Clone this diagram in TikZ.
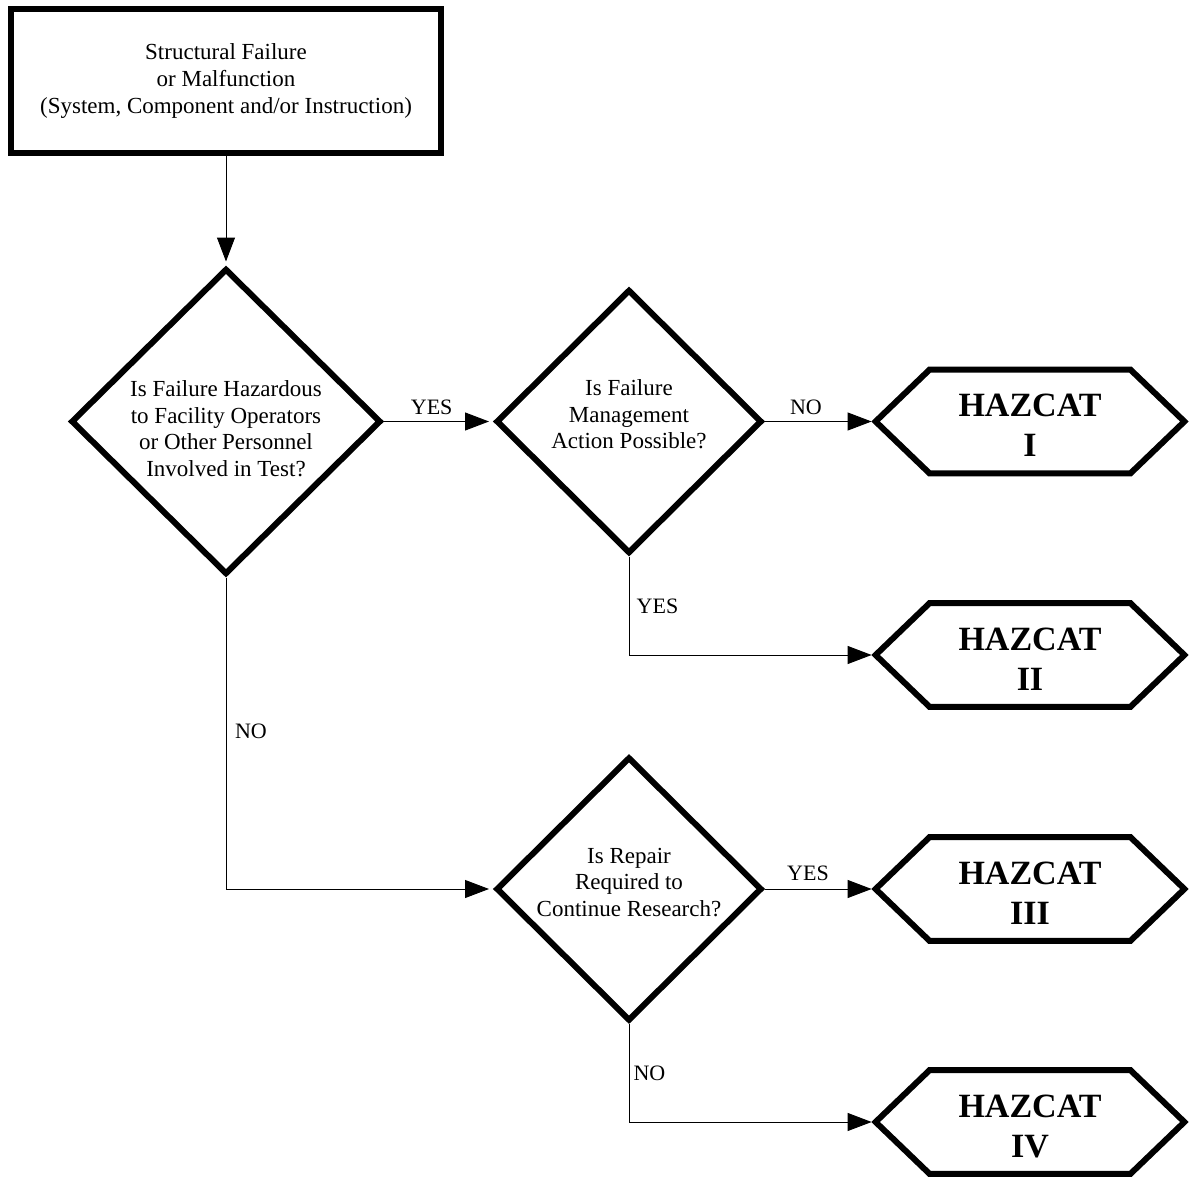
\documentclass[tikz,border=0pt]{standalone}
\usepackage{fontspec}
\setmainfont{Liberation Serif}
\usetikzlibrary{shapes.geometric,arrows.meta}
\begin{document}
\begin{tikzpicture}[x=0.5pt,y=-0.5pt,
  shapeline/.style={draw=black,line width=3pt,line join=miter},
  topbox/.style={shapeline,rectangle,minimum width=215pt,minimum height=72pt,inner sep=0pt},
  bigdia/.style={shapeline,diamond,inner sep=0pt,minimum width=155pt,minimum height=153pt},
  smalldia/.style={shapeline,diamond,inner sep=0pt,minimum width=133pt,minimum height=132pt},
  hexbox/.style={rectangle,inner sep=0pt,minimum width=154pt,minimum height=51.5pt},
  qtext/.style={align=center,inner sep=0pt,font=\fontsize{11.5}{13.3}\selectfont},
  haz/.style={align=center,inner sep=0pt,font=\fontsize{17}{20}\selectfont\bfseries},
  lbl/.style={inner sep=0pt,font=\fontsize{11}{13}\selectfont},
  conn/.style={draw=black,line width=0.5pt,-{Triangle[length=12pt,width=9pt]},shorten >=2pt},
]
\useasboundingbox (0,0) rectangle (1191,1178);

% shapes
\node[topbox] (box) at (226,81) {};
\node[bigdia] (d1) at (226,421.5) {};
\node[smalldia] (d2) at (629,421.5) {};
\node[smalldia] (d3) at (629,889) {};
\node[hexbox] (h1) at (1030,421.5) {};
\node[hexbox] (h2) at (1030,655) {};
\node[hexbox] (h3) at (1030,889) {};
\node[hexbox] (h4) at (1030,1122) {};
\foreach \h in {h1,h2,h3,h4}{
  \draw[shapeline] (\h.west) -- ([xshift=27pt]\h.north west) -- ([xshift=-27pt]\h.north east)
    -- (\h.east) -- ([xshift=-27pt]\h.south east) -- ([xshift=27pt]\h.south west) -- cycle;
}

% texts
\node[qtext] (t0) at (226,81) {Structural Failure\\or Malfunction\\(System, Component and/or Instruction)};
\node[qtext] (t1) at (226,428.8) {Is Failure Hazardous\\to Facility Operators\\or Other Personnel\\Involved in Test?};
\node[qtext] (t2) at (629,414.2) {Is Failure\\Management\\Action Possible?};
\node[qtext] (t3) at (629,882.2) {Is Repair\\Required to\\Continue Research?};
\node[haz] (k1) at (1030,425.2) {HAZCAT\\I};
\node[haz] (k2) at (1030,659) {HAZCAT\\II};
\node[haz] (k3) at (1030,893) {HAZCAT\\III};
\node[haz] (k4) at (1030,1126) {HAZCAT\\IV};

% connectors
\draw[conn] (box.south) -- (d1.north);
\draw[conn] (d1.east) -- (d2.west);
\draw[conn] (d2.east) -- (h1.west);
\draw[conn] (d2.south) |- (h2.west);
\draw[conn] (d1.south) |- (d3.west);
\draw[conn] (d3.east) -- (h3.west);
\draw[conn] (d3.south) |- (h4.west);

% connector labels
\node[lbl] (yes1) at (431.7,407) {YES};
\node[lbl] (no1) at (806,407.7) {NO};
\node[lbl] (yes2) at (657.5,606.7) {YES};
\node[lbl] (no2) at (251,731.7) {NO};
\node[lbl] (yes3) at (808,873.3) {YES};
\node[lbl] (no3) at (649.5,1073) {NO};
\end{tikzpicture}
\end{document}
